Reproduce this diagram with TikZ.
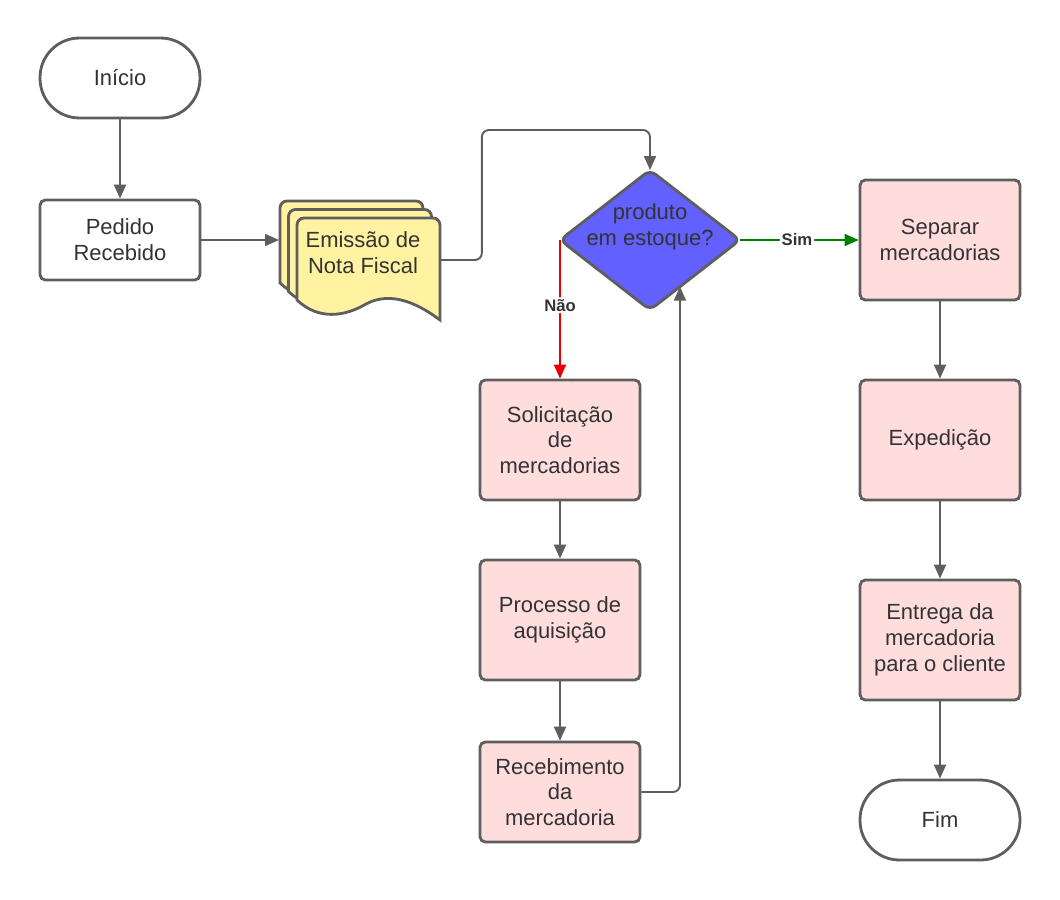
\documentclass[tikz,border=0pt]{standalone}
\usepackage{fontspec}
\setmainfont{Liberation Sans}
\usepackage{tikz}
\usetikzlibrary{arrows.meta,positioning,shapes.geometric,calc}
\definecolor{linegray}{RGB}{94,94,94}
\definecolor{textgray}{RGB}{51,51,51}
\definecolor{boxpink}{RGB}{255,221,221}
\definecolor{docyellow}{RGB}{255,242,161}
\definecolor{decblue}{RGB}{98,96,255}
\definecolor{noRed}{RGB}{230,0,0}
\definecolor{simGreen}{RGB}{0,128,0}

\begin{document}
\begin{tikzpicture}[
    x=0.02cm, y=-0.02cm,
    every node/.style={text=textgray,font=\fontsize{12.5}{14.7}\selectfont},
    base/.style={draw=linegray,line width=1.6pt,align=center,inner sep=2pt},
    term/.style={base,fill=white,rounded corners=0.79cm,minimum width=3.2cm,minimum height=1.6cm},
    plain/.style={base,fill=white,rounded corners=3pt,minimum width=3.2cm,minimum height=1.6cm},
    proc/.style={base,fill=boxpink,rounded corners=3pt,minimum width=3.2cm,minimum height=2.4cm},
    decision/.style={base,diamond,fill=decblue,aspect=1.286,inner sep=0pt,outer sep=0pt,
      minimum width=3.6cm,minimum height=2.8cm,rounded corners=4pt},
    arrow/.style={-{Triangle[length=2.8mm,width=2.4mm]},draw=linegray,line width=1.1pt,rounded corners=4pt},
    lbl/.style={font=\fontsize{9.5}{11}\selectfont\bfseries,fill=white,inner sep=1pt}
  ]
    \useasboundingbox (0,0) rectangle (1060,899);

    % stacked documents
    \foreach \o in {17,8.5,0} {
      \begin{scope}[shift={(-\o,-\o)}]
        \draw[draw=linegray,line width=1.6pt,fill=docyellow]
          (297,300) [rounded corners=4pt] |- (440,218) [sharp corners] -- (440,320)
          .. controls (420,305) and (392,290) .. (366,304)
          .. controls (344,317) and (318,320) .. (297,300) -- cycle;
      \end{scope}
    }

    \node[term] (ini) at (120,78) {Início};
    \node[plain] (ped) at (120,240) {Pedido\\Recebido};
    \node[align=center,minimum width=2.86cm,minimum height=1.68cm,inner sep=0pt] (nf) at (368,260) {};
    \node[align=center] (nftxt) at (363,253) {Emissão de\\Nota Fiscal};
    \coordinate (nfback) at (279,240);
    \node[decision] (dec) at (650,240) {};
    \node[align=center] (dectxt) at (650,227) {produto\\em estoque?};
    \node[proc] (sep) at (940,240) {Separar\\mercadorias};
    \node[proc] (exp) at (940,440) {Expedição};
    \node[proc] (ent) at (940,640) {Entrega da\\mercadoria\\para o cliente};
    \node[term] (fim) at (940,820) {Fim};
    \node[proc] (sol) at (560,440) {Solicitação\\de\\mercadorias};
    \node[proc] (pro) at (560,620) {Processo de\\aquisição};
    \node[proc,minimum height=2cm] (rec) at (560,792) {Recebimento\\da\\mercadoria};

    \draw[arrow] (ini) -- (ped);
    \draw[arrow] (ped) -- (nfback);
    \draw[arrow] (nf.east) -- ++(42,0) |- ($(dec.north)+(0,-40)$) -- (dec.north);
    \draw[arrow,draw=noRed] (dec.west) -- node[lbl,pos=0.47] {Não} (sol.north);
    \draw[arrow,draw=simGreen] (dec.east) -- node[lbl,pos=0.48] {Sim} (sep.west);
    \draw[arrow] (sol) -- (pro);
    \draw[arrow] (pro) -- (rec);
    \draw[arrow] (rec.east) -| ($(dec.south)!0.333!(dec.east)$);
    \draw[arrow] (sep) -- (exp);
    \draw[arrow] (exp) -- (ent);
    \draw[arrow] (ent) -- (fim);
  \end{tikzpicture}
\end{document}
